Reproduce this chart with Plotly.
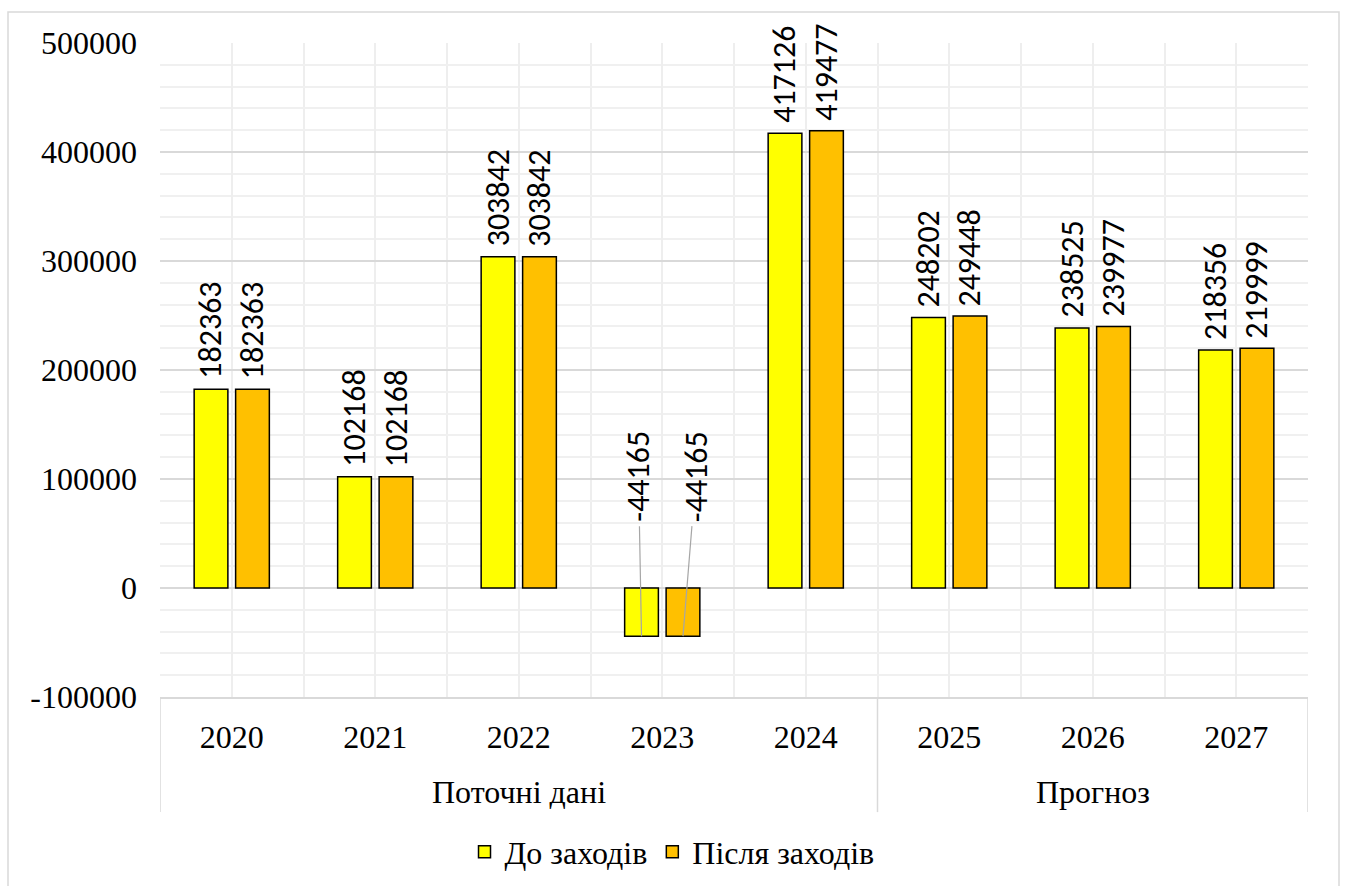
import plotly.graph_objects as go

# Source data
years = [2020, 2021, 2022, 2023, 2024, 2025, 2026, 2027]
before_measures = [182363, 102168, 303842, -44165, 417126, 248202, 238525, 218356]
after_measures = [182363, 102168, 303842, -44165, 419477, 249448, 239977, 219999]
series_names = ["До заходів", "Після заходів"]
group_labels = ["Поточні дані", "Прогноз"]
group_spans = [(2020, 2024), (2025, 2027)]
y_ticks = [-100000, 0, 100000, 200000, 300000, 400000, 500000]
y_ticktext = [str(v) for v in y_ticks]

SERIF = "Liberation Serif"
SANS = "Carlito"
BAR_W = 0.235
OFFSETS = [-0.262, 0.027]
COLORS = ["#FFFF00", "#FFC000"]

fig = go.Figure()
for name, vals, off, col in zip(series_names, [before_measures, after_measures], OFFSETS, COLORS):
    fig.add_trace(go.Bar(
        x=years, y=vals, name=name, width=BAR_W, offset=off,
        marker=dict(color=col, line=dict(color="black", width=1.5)),
    ))

annotations = []
for vals, off in zip([before_measures, after_measures], OFFSETS):
    center = off + BAR_W / 2
    for yr, v in zip(years, vals):
        if v >= 0:
            annotations.append(dict(
                x=yr + center, y=v, text=str(v), textangle=-90, showarrow=False,
                yanchor="bottom", xanchor="center", yshift=8,
                font=dict(family=SANS, size=32, color="black"),
            ))
        else:
            # negative values: label above the zero line with a leader line
            annotations.append(dict(
                x=yr + center, y=v, text=str(v), textangle=-90, showarrow=True,
                arrowhead=0, arrowwidth=1.2, arrowcolor="#A6A6A6",
                ax=-3 if off < 0 else 13, ay=-160, borderpad=4,
                font=dict(family=SANS, size=32, color="black"),
            ))

# Group labels under the year labels
for label, (a, b) in zip(group_labels, group_spans):
    annotations.append(dict(
        x=(a + b) / 2, xref="x", y=-0.145, yref="paper", text=label,
        showarrow=False, yanchor="middle",
        font=dict(family=SERIF, size=32, color="black"),
    ))

shapes = []
# Dividers between category groups
for xv in [2019.5, 2024.5, 2027.5]:
    shapes.append(dict(type="line", xref="x", yref="paper", x0=xv, x1=xv, y0=0, y1=-0.176,
                       line=dict(color="#D9D9D9", width=1.5)))
# Chart area border
shapes.append(dict(type="rect", xref="paper", yref="paper",
                   x0=(8 - 160) / 1148, x1=(1339 - 160) / 1148,
                   y0=(697 - 12) / 654, y1=-0.35,
                   line=dict(color="#D9D9D9", width=1.5), fillcolor="rgba(0,0,0,0)", layer="below"))

fig.update_layout(
    width=1347, height=886,
    margin=dict(l=160, r=39, t=43, b=189, autoexpand=False),
    paper_bgcolor="white", plot_bgcolor="white",
    barmode="group", showlegend=True,
    font=dict(family=SERIF, size=32, color="black"),
    legend=dict(orientation="h", x=0.446, xanchor="center", y=-0.237, yanchor="middle",
                font=dict(family=SERIF, size=32, color="black"), traceorder="normal"),
    annotations=annotations, shapes=shapes,
)
fig.update_xaxes(
    range=[2019.5, 2027.5], tickvals=years, ticktext=[str(y) for y in years],
    showgrid=True, gridcolor="#EEEEEE", gridwidth=1.5,
    minor=dict(dtick=0.5, tick0=2019.5, showgrid=True, gridcolor="#EEEEEE", gridwidth=1.5),
    showline=True, linecolor="#D9D9D9", linewidth=1.5,
    ticks="", ticklabelstandoff=11, zeroline=False, automargin=False,
    tickfont=dict(family=SERIF, size=32, color="black"),
)
fig.update_yaxes(
    range=[-100000, 500000], tickvals=y_ticks, ticktext=y_ticktext,
    showgrid=True, gridcolor="#D9D9D9", gridwidth=1.5,
    minor=dict(dtick=20000, tick0=0, showgrid=True, gridcolor="#F0F0F0", gridwidth=1.5),
    zeroline=True, zerolinecolor="#D9D9D9", zerolinewidth=1.5,
    ticks="", ticklabelstandoff=22, automargin=False,
    tickfont=dict(family=SERIF, size=32, color="black"),
)

fig.write_html("out.html")
